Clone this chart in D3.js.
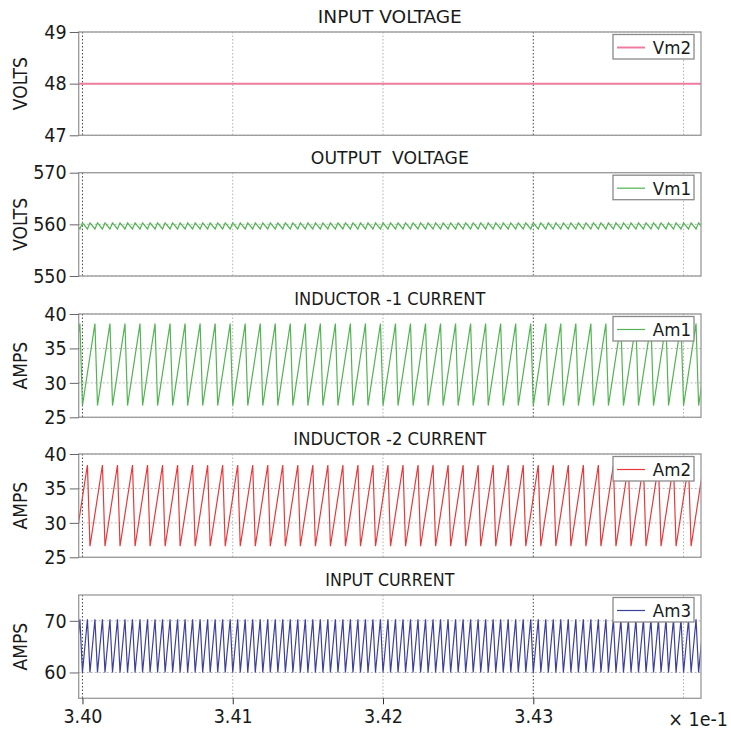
<!DOCTYPE html>
<html>
<head>
<meta charset="utf-8">
<script src="https://cdn.jsdelivr.net/npm/d3@7"></script>
<style>
  html, body { margin: 0; padding: 0; background: #fff; }
  svg { display: block; }
  text { font-family: "DejaVu Sans Condensed", "DejaVu Sans", sans-serif; fill: #1a1a1a; white-space: pre; }
</style>
</head>
<body>
<svg id="chart" width="731" height="736"></svg>
<script>
// ---------------- DATA ----------------
const xTicks = [3.40, 3.41, 3.42, 3.43, 3.44];
const xTickLabels = ["3.40", "3.41", "3.42", "3.43", ""];
const xMultiplier = "× 1e-1";

const panelTitles = ["INPUT VOLTAGE", "OUTPUT  VOLTAGE", "INDUCTOR -1 CURRENT", "INDUCTOR -2 CURRENT", "INPUT CURRENT"];
const yLabels = ["VOLTS", "VOLTS", "AMPS", "AMPS", "AMPS"];
const legendNames = ["Vm2", "Vm1", "Am1", "Am2", "Am3"];
const yDomains = [[47, 49], [550, 570], [25, 40], [25, 40], [55, 75]];
const yTicks = [[47, 48, 49], [550, 560, 570], [25, 30, 35, 40], [25, 30, 35, 40], [60, 70]];

// Vm2: constant input voltage
const vm2Times = [3.3997, 3.4412];
const vm2Values = [48, 48];

// Am1: inductor-1 current, troughs (low level) and peaks (high level)
const am1Low = 26.7, am1High = 38.6;
const am1Troughs = [3.399,3.400,3.401,3.402,3.403,3.404,3.405,3.406,3.407,3.408,3.409,3.410,3.411,3.412,3.413,3.414,3.415,3.416,3.417,3.418,3.419,3.420,3.421,3.422,3.423,3.424,3.425,3.426,3.427,3.428,3.429,3.430,3.431,3.432,3.433,3.434,3.435,3.436,3.437,3.438,3.439,3.440,3.441];
const am1Peaks = [3.39983,3.40083,3.40183,3.40283,3.40383,3.40483,3.40583,3.40683,3.40783,3.40883,3.40983,3.41083,3.41183,3.41283,3.41383,3.41483,3.41583,3.41683,3.41783,3.41883,3.41983,3.42083,3.42183,3.42283,3.42383,3.42483,3.42583,3.42683,3.42783,3.42883,3.42983,3.43083,3.43183,3.43283,3.43383,3.43483,3.43583,3.43683,3.43783,3.43883,3.43983,3.44083,3.44183];

// Am2: inductor-2 current (interleaved, half a period later)
const am2Low = 26.6, am2High = 38.4;
const am2Troughs = [3.3985,3.3995,3.4005,3.4015,3.4025,3.4035,3.4045,3.4055,3.4065,3.4075,3.4085,3.4095,3.4105,3.4115,3.4125,3.4135,3.4145,3.4155,3.4165,3.4175,3.4185,3.4195,3.4205,3.4215,3.4225,3.4235,3.4245,3.4255,3.4265,3.4275,3.4285,3.4295,3.4305,3.4315,3.4325,3.4335,3.4345,3.4355,3.4365,3.4375,3.4385,3.4395,3.4405,3.4415];
const am2Peaks = [3.39933,3.40033,3.40133,3.40233,3.40333,3.40433,3.40533,3.40633,3.40733,3.40833,3.40933,3.41033,3.41133,3.41233,3.41333,3.41433,3.41533,3.41633,3.41733,3.41833,3.41933,3.42033,3.42133,3.42233,3.42333,3.42433,3.42533,3.42633,3.42733,3.42833,3.42933,3.43033,3.43133,3.43233,3.43333,3.43433,3.43533,3.43633,3.43733,3.43833,3.43933,3.44033,3.44133];

// Am3: input current (twice the switching frequency)
const am3Low = 60.0, am3High = 70.3;
const am3Peaks = [3.39933,3.39983,3.40033,3.40083,3.40133,3.40183,3.40233,3.40283,3.40333,3.40383,3.40433,3.40483,3.40533,3.40583,3.40633,3.40683,3.40733,3.40783,3.40833,3.40883,3.40933,3.40983,3.41033,3.41083,3.41133,3.41183,3.41233,3.41283,3.41333,3.41383,3.41433,3.41483,3.41533,3.41583,3.41633,3.41683,3.41733,3.41783,3.41833,3.41883,3.41933,3.41983,3.42033,3.42083,3.42133,3.42183,3.42233,3.42283,3.42333,3.42383,3.42433,3.42483,3.42533,3.42583,3.42633,3.42683,3.42733,3.42783,3.42833,3.42883,3.42933,3.42983,3.43033,3.43083,3.43133,3.43183,3.43233,3.43283,3.43333,3.43383,3.43433,3.43483,3.43533,3.43583,3.43633,3.43683,3.43733,3.43783,3.43833,3.43883,3.43933,3.43983,3.44033,3.44083,3.44133,3.44183];
const am3Troughs = [3.3995,3.4000,3.4005,3.4010,3.4015,3.4020,3.4025,3.4030,3.4035,3.4040,3.4045,3.4050,3.4055,3.4060,3.4065,3.4070,3.4075,3.4080,3.4085,3.4090,3.4095,3.4100,3.4105,3.4110,3.4115,3.4120,3.4125,3.4130,3.4135,3.4140,3.4145,3.4150,3.4155,3.4160,3.4165,3.4170,3.4175,3.4180,3.4185,3.4190,3.4195,3.4200,3.4205,3.4210,3.4215,3.4220,3.4225,3.4230,3.4235,3.4240,3.4245,3.4250,3.4255,3.4260,3.4265,3.4270,3.4275,3.4280,3.4285,3.4290,3.4295,3.4300,3.4305,3.4310,3.4315,3.4320,3.4325,3.4330,3.4335,3.4340,3.4345,3.4350,3.4355,3.4360,3.4365,3.4370,3.4375,3.4380,3.4385,3.4390,3.4395,3.4400,3.4405,3.4410,3.4415];

// Vm1: output voltage ripple (peaks where input current bottoms out)
const vm1Low = 559.1, vm1High = 560.3;
const vm1Peaks = am3Troughs;
const vm1Troughs = am3Peaks;

// ---------------- DRAWING ----------------
function sawSeries(peaks, troughs, high, low) {
  const pts = peaks.map(t => ({t, v: high})).concat(troughs.map(t => ({t, v: low})));
  return pts.sort((a, b) => a.t - b.t);
}

const seriesData = [
  vm2Times.map((t, i) => ({t, v: vm2Values[i]})),
  sawSeries(vm1Peaks, vm1Troughs, vm1High, vm1Low),
  sawSeries(am1Peaks, am1Troughs, am1High, am1Low),
  sawSeries(am2Peaks, am2Troughs, am2High, am2Low),
  sawSeries(am3Peaks, am3Troughs, am3High, am3Low)
];
const colors = ["#ee7c9e", "#52b452", "#52b452", "#e8383a", "#3c3f9c"];
const widths = [2, 1.2, 1.2, 1.2, 1.2];
const titleWidths = [144, 158, 191, 193, 129];

const svg = d3.select("#chart");
const plotLeft = 78.7, plotRight = 701;
const panelTops = [32, 172.7, 314, 454, 595];
const panelH = 103.3;

const x = d3.scaleLinear().domain([3.39975, 3.44116]).range([plotLeft, plotRight]);

panelTops.forEach((top, i) => {
  const y = d3.scaleLinear().domain(yDomains[i]).range([top + panelH, top]);
  const g = svg.append("g");

  const clipId = "clip" + i;
  svg.append("clipPath").attr("id", clipId)
    .append("rect").attr("x", plotLeft).attr("y", top).attr("width", plotRight - plotLeft).attr("height", panelH);

  // horizontal grid
  g.append("g").selectAll("line").data(yTicks[i]).join("line")
    .attr("x1", plotLeft).attr("x2", plotRight)
    .attr("y1", d => y(d)).attr("y2", d => y(d))
    .attr("stroke", "#b8b8b8").attr("stroke-width", 1).attr("stroke-dasharray", "2,2");

  // vertical grid
  g.append("g").selectAll("line").data(xTicks).join("line")
    .attr("x1", d => x(d)).attr("x2", d => x(d))
    .attr("y1", top).attr("y2", top + panelH)
    .attr("stroke", (d, j) => (j === 0 || j === 3) ? "#444" : "#b0b0b0")
    .attr("stroke-width", 1).attr("stroke-dasharray", "1.5,2");

  // series
  const line = d3.line().x(d => x(d.t)).y(d => y(d.v));
  g.append("path").datum(seriesData[i])
    .attr("clip-path", `url(#${clipId})`)
    .attr("d", line).attr("fill", "none")
    .attr("stroke", colors[i]).attr("stroke-width", widths[i]).attr("stroke-linejoin", "miter");

  // frame
  g.append("rect").attr("x", plotLeft).attr("y", top).attr("width", plotRight - plotLeft).attr("height", panelH)
    .attr("fill", "none").attr("stroke", "#9a9a9a").attr("stroke-width", 1.3);

  // y axis
  const yAxis = d3.axisLeft(y).tickValues(yTicks[i]).tickSize(9).tickPadding(3).tickFormat(d3.format("d"));
  const ya = g.append("g").attr("transform", `translate(${plotLeft},0)`).call(yAxis);
  ya.select(".domain").remove();
  ya.selectAll(".tick line").attr("stroke", "#666");
  ya.selectAll(".tick text").attr("font-size", 19.5).attr("fill", "#1a1a1a")
    .attr("font-family", '"DejaVu Sans Condensed", "DejaVu Sans", sans-serif');

  // y label
  g.append("text")
    .attr("transform", `translate(27,${top + panelH / 2}) rotate(-90)`)
    .attr("text-anchor", "middle").attr("font-size", 19).text(yLabels[i]);

  // title
  g.append("text").attr("x", (plotLeft + plotRight) / 2).attr("y", top - 9)
    .attr("text-anchor", "middle").attr("font-size", 18.5)
    .attr("textLength", titleWidths[i]).attr("lengthAdjust", "spacingAndGlyphs")
    .text(panelTitles[i]);

  // legend
  const lg = g.append("g").attr("transform", `translate(613,${top + 2.5})`);
  lg.append("rect").attr("width", 81).attr("height", 24.5)
    .attr("fill", "#fff").attr("stroke", "#8a8a8a").attr("stroke-width", 1.3);
  lg.append("line").attr("x1", 4).attr("x2", 32).attr("y1", 13).attr("y2", 13)
    .attr("stroke", colors[i]).attr("stroke-width", widths[i]);
  lg.append("text").attr("x", 78).attr("y", 19.5).attr("text-anchor", "end")
    .attr("font-size", 18.5).text(legendNames[i]);

  // x axis on the bottom panel
  if (i === panelTops.length - 1) {
    const xAxis = d3.axisBottom(x).tickValues(xTicks).tickSize(6).tickPadding(5)
      .tickFormat((d, j) => xTickLabels[j]);
    const xa = g.append("g").attr("transform", `translate(0,${top + panelH})`).call(xAxis);
    xa.select(".domain").remove();
    xa.selectAll(".tick line").attr("stroke", (d, j) => j === 4 ? "none" : "#333");
    xa.selectAll(".tick text").attr("font-size", 19.5).attr("fill", "#1a1a1a")
      .attr("font-family", '"DejaVu Sans Condensed", "DejaVu Sans", sans-serif');
    g.append("text").attr("x", 728).attr("y", top + panelH + 28)
      .attr("text-anchor", "end").attr("font-size", 19.5).text(xMultiplier);
  }
});
</script>
</body>
</html>
